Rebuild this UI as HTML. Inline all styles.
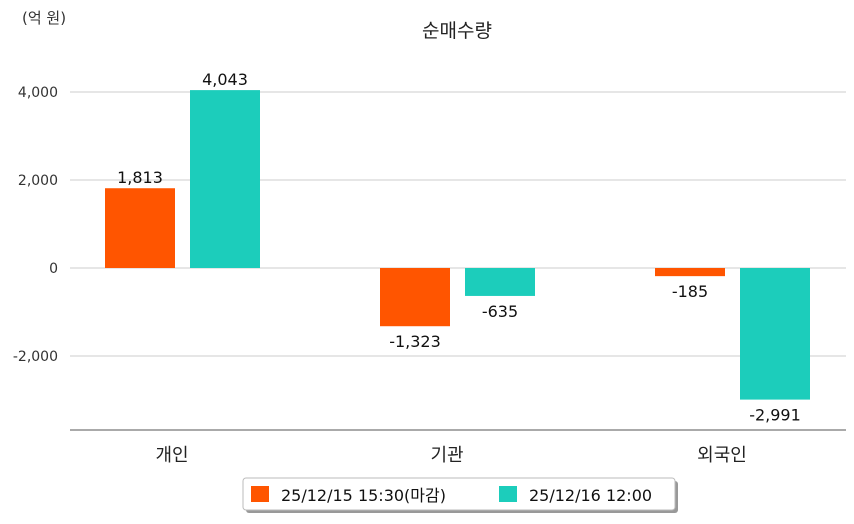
<!DOCTYPE html>
<html><head><meta charset="utf-8"><style>
body{margin:0;background:#fff;width:854px;height:520px;overflow:hidden;font-family:"DejaVu Sans","Noto Sans CJK KR",sans-serif}
</style></head><body>
<svg id="c" width="854" height="520" font-family="DejaVu Sans, Noto Sans CJK KR, sans-serif">
<text x="22" y="23" font-size="15" fill="#333">(억 원)</text>
<text x="457" y="37" font-size="19" fill="#222" text-anchor="middle">순매수량</text>
<g id="grid"></g><g id="bars"></g>
<g>
<rect x="246" y="481" width="432" height="32" rx="3" fill="#999"/>
<rect x="243" y="478" width="432" height="32" rx="3" fill="#fff" stroke="#bbb"/>
<rect x="251" y="486" width="18" height="16" fill="#ff5500"/>
<text x="281" y="501" font-size="16" fill="#111">25/12/15 15:30(마감)</text>
<rect x="499" y="486" width="18" height="16" fill="#1ccdbb"/>
<text x="529" y="501" font-size="16" fill="#111">25/12/16 12:00</text>
</g>
</svg>
<script>
const categories=["개인","기관","외국인"];
const seriesPrev=[1813,-1323,-185];
const seriesNow=[4043,-635,-2991];
const ticks=[4000,2000,0,-2000];
const tickLabels=["4,000","2,000","0","-2,000"];
const NS="http://www.w3.org/2000/svg";
const y=v=>268-v*0.044;
function mk(tag,a,p){const e=document.createElementNS(NS,tag);for(const k in a)e.setAttribute(k,a[k]);p.appendChild(e);return e;}
const g=document.getElementById('grid'),b=document.getElementById('bars');
ticks.forEach((t,i)=>{
 const l=mk('line',{x1:70,x2:846,y1:y(t),y2:y(t),stroke:'#ccc'},g);
 
 
 const tx=mk('text',{x:58,y:y(t)+5,'font-size':14,fill:'#333','text-anchor':'end'},g);tx.textContent=tickLabels[i];
 
 
});
const ax=mk('line',{x1:70,x2:846,y1:430,y2:430,stroke:'#555'},g);


const fmt=v=>v.toLocaleString('en-US');
categories.forEach((c,i)=>{
 const x0=105+i*275;
 [[seriesPrev[i],'#ff5500',x0],[seriesNow[i],'#1ccdbb',x0+85]].forEach(([v,col,x],j)=>{
  const top=Math.min(y(v),y(0)),h=Math.abs(y(v)-y(0));
  const r=mk('rect',{x:x,y:top,width:70,height:h,fill:col},b);
  
  
  const ly=v>=0?y(v)-5:y(v)+21;
  const t=mk('text',{x:x+35,y:ly,'font-size':16,fill:'#111','text-anchor':'middle'},b);t.textContent=fmt(v);
  
  
 });
 const ct=mk('text',{x:x0+67,y:461,'font-size':18,fill:'#222','text-anchor':'middle'},b);ct.textContent=c;
 
 
});
</script>
</body></html>
